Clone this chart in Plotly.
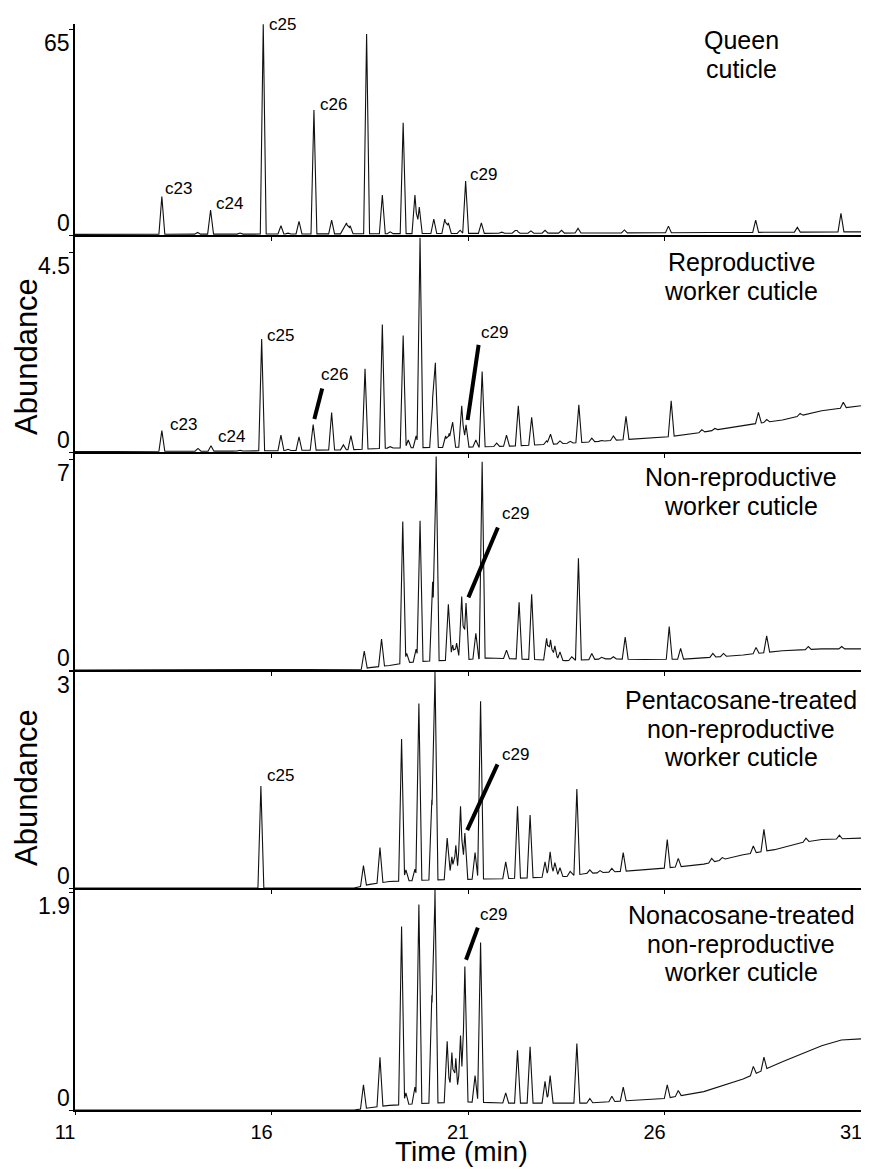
import numpy as np
import plotly.graph_objects as go
from plotly.subplots import make_subplots

# ---------------- data (retention time in min, abundance) ----------------
queen_peak_t = [13.21, 14.12, 14.45, 15.2, 15.79, 16.24, 16.42, 16.70, 17.08, 17.53, 17.83, 17.91, 18.0,
                18.42, 18.82, 19.02, 19.35, 19.65, 19.76, 20.13, 20.41, 20.50, 20.80, 20.94, 21.34, 21.86,
                22.20, 22.25, 22.60, 22.96, 23.38, 23.80, 24.98, 26.10, 27.23, 28.32, 29.38, 30.49]
queen_peak_h = [12.1, 0.8, 7.9, 0.6, 66.5, 2.9, 0.6, 4.3, 39.4, 4.7, 2.2, 3.8, 2.9,
                63.4, 12.6, 1.0, 35.4, 12.6, 8.8, 5.0, 5.0, 3.8, 1.5, 17.0, 3.8, 0.9,
                1.2, 1.2, 1.3, 1.5, 1.5, 2.1, 1.6, 2.8, 0.8, 4.7, 2.4, 6.8]
queen_base_t = [11, 16, 21, 26, 31]
queen_base_y = [0.2, 0.3, 0.5, 0.7, 1.0]

repro_peak_t = [13.21, 14.13, 14.46, 15.2, 15.75, 16.24, 16.42, 16.70, 17.06, 17.53, 17.83, 18.02, 18.38,
                18.82, 19.02, 19.35, 19.48, 19.68, 19.78, 20.10, 20.17, 20.43, 20.52, 20.61, 20.84, 20.95,
                21.20, 21.36, 21.73, 21.98, 22.28, 22.62, 23.00, 23.10, 23.34, 23.60, 23.82, 24.15, 24.40,
                24.70, 25.02, 26.17, 26.95, 27.28, 28.39, 28.60, 29.45, 30.55]
repro_peak_h = [0.48, 0.08, 0.14, 0.04, 2.54, 0.38, 0.06, 0.34, 0.62, 0.89, 0.16, 0.37, 1.87,
                2.87, 0.12, 2.62, 0.27, 0.36, 4.82, 1.1, 1.94, 0.36, 0.42, 0.67, 1.04, 0.61,
                0.27, 1.81, 0.2, 0.38, 1.04, 0.78, 0.25, 0.4, 0.25, 0.24, 1.06, 0.31, 0.26,
                0.36, 0.8, 1.15, 0.5, 0.53, 0.89, 0.73, 0.87, 1.12]
repro_base_t = [11, 15, 18, 19, 20, 21, 22, 23, 24, 25, 26, 27, 28, 29, 30, 31]
repro_base_y = [0.01, 0.02, 0.05, 0.09, 0.1, 0.11, 0.13, 0.17, 0.22, 0.28, 0.33, 0.45, 0.6, 0.72, 0.93, 1.04]

nonrep_peak_t = [18.36, 18.80, 19.34, 19.44, 19.68, 19.78, 20.10, 20.19, 20.50, 20.61, 20.71, 20.84, 20.95,
                 21.20, 21.36, 21.98, 22.30, 22.62, 23.00, 23.10, 23.21, 23.34, 23.64, 23.81, 24.15, 24.40,
                 24.70, 25.00, 26.12, 26.41, 27.23, 27.50, 28.33, 28.60, 29.66, 30.51]
nonrep_peak_h = [0.63, 1.03, 4.93, 0.55, 0.69, 4.95, 2.93, 7.08, 2.18, 0.83, 0.89, 2.44, 2.22,
                 1.22, 6.91, 0.66, 2.25, 2.51, 1.05, 1.0, 0.8, 0.6, 0.44, 3.71, 0.55, 0.42,
                 0.44, 1.09, 1.44, 0.72, 0.55, 0.55, 0.75, 1.13, 0.78, 0.78]
nonrep_base_t = [11, 18.2, 18.5, 19.0, 19.5, 20.0, 20.5, 21.0, 21.5, 22.0, 23.0, 23.5, 24.5, 25.5, 26.5,
                 27.5, 28.0, 29.0, 30.0, 31.0]
nonrep_base_y = [0, 0, 0.08, 0.15, 0.25, 0.3, 0.32, 0.35, 0.4, 0.38, 0.33, 0.31, 0.37, 0.35, 0.36,
                 0.45, 0.5, 0.64, 0.7, 0.7]

penta_peak_t = [15.73, 18.34, 18.76, 19.31, 19.42, 19.65, 19.75, 20.08, 20.16, 20.47, 20.59, 20.69, 20.81,
                20.92, 21.18, 21.32, 21.96, 22.26, 22.58, 22.96, 23.09, 23.21, 23.34, 23.60, 23.77, 24.10,
                24.36, 24.66, 24.95, 26.07, 26.35, 27.20, 27.47, 28.26, 28.53, 29.60, 30.45]
penta_peak_h = [1.41, 0.31, 0.56, 2.06, 0.25, 0.26, 2.55, 1.22, 2.99, 0.69, 0.43, 0.59, 1.13,
                0.76, 0.49, 2.58, 0.36, 1.13, 1.01, 0.36, 0.5, 0.35, 0.28, 0.23, 1.37, 0.25,
                0.24, 0.27, 0.49, 0.67, 0.41, 0.41, 0.42, 0.58, 0.81, 0.69, 0.73]
penta_base_t = [11, 18.1, 18.5, 19, 19.5, 20, 21, 22, 23, 23.5, 24, 25.5, 26.5, 27, 28, 28.8, 29.5, 30, 31]
penta_base_y = [0, 0, 0.05, 0.09, 0.1, 0.11, 0.12, 0.13, 0.15, 0.16, 0.2, 0.25, 0.3, 0.33, 0.46, 0.53,
                0.63, 0.67, 0.69]

nona_peak_t = [18.34, 18.76, 19.31, 19.42, 19.65, 19.75, 20.08, 20.16, 20.47, 20.59, 20.69, 20.81, 20.92,
               21.18, 21.32, 21.96, 22.26, 22.58, 22.96, 23.09, 23.77, 24.10, 24.66, 24.95, 26.07, 26.35,
               28.26, 28.53]
nona_peak_h = [0.22, 0.46, 1.6, 0.15, 0.2, 1.79, 1.0, 1.92, 0.6, 0.5, 0.45, 0.65, 1.25,
               0.3, 1.46, 0.15, 0.52, 0.55, 0.25, 0.3, 0.58, 0.1, 0.12, 0.2, 0.22, 0.17,
               0.38, 0.46]
nona_base_t = [11, 18.1, 18.5, 19, 20, 21, 22, 23, 24, 25, 26, 27, 28, 29, 30, 30.5, 31]
nona_base_y = [0, 0, 0.02, 0.04, 0.06, 0.07, 0.06, 0.06, 0.06, 0.08, 0.1, 0.16, 0.27, 0.42, 0.56, 0.61, 0.62]

panel_titles = [["Queen", "cuticle"],
                ["Reproductive", "worker cuticle"],
                ["Non-reproductive", "worker cuticle"],
                ["Pentacosane-treated", "non-reproductive", "worker cuticle"],
                ["Nonacosane-treated", "non-reproductive", "worker cuticle"]]
panel_max = [65, 4.5, 7, 3, 1.9]
panel_max_labels = ["65", "4.5", "7", "3", "1.9"]
x_ticks = [11, 16, 21, 26, 31]

# peak labels: (panel, label, time, abundance)
label_panel = [1, 1, 1, 1, 1, 2, 2, 2, 2, 2, 3, 4, 4, 5]
label_text = ["c23", "c24", "c25", "c26", "c29", "c23", "c24", "c25", "c26", "c29", "c29", "c25", "c29", "c29"]
label_t = [13.23, 14.54, 15.88, 17.19, 21.01, 13.37, 14.58, 15.83, 17.22, 21.29, 21.81, 15.83, 21.81, 21.25]
label_y = [14.8, 9.8, 66.5, 41.3, 19.2, 0.63, 0.34, 2.63, 1.74, 2.70, 5.18, 1.55, 1.84, 1.70]

# leader lines: (panel, t0, y0, t1, y1)
lead_panel = [2, 2, 3, 4, 5]
lead_t0 = [17.29, 21.27, 21.76, 21.75, 21.25]
lead_y0 = [1.43, 2.41, 4.73, 1.71, 1.59]
lead_t1 = [17.09, 20.99, 21.01, 20.98, 20.95]
lead_y1 = [0.74, 0.72, 2.41, 0.80, 1.31]

panels = [(queen_peak_t, queen_peak_h, queen_base_t, queen_base_y),
          (repro_peak_t, repro_peak_h, repro_base_t, repro_base_y),
          (nonrep_peak_t, nonrep_peak_h, nonrep_base_t, nonrep_base_y),
          (penta_peak_t, penta_peak_h, penta_base_t, penta_base_y),
          (nona_peak_t, nona_peak_h, nona_base_t, nona_base_y)]


def build_trace(pt, ph, bt, by, w=0.075):
    pt = np.array(pt, float)
    ph = np.array(ph, float)
    knots = np.concatenate([bt, pt - w, pt, pt + w])
    knots = np.unique(np.clip(knots, 11, 31))
    base = np.interp(knots, bt, by)
    amp = ph - np.interp(pt, bt, by)
    y = base.copy()
    for t0, a in zip(pt, amp):
        y += np.clip(a * (1 - np.abs(knots - t0) / w), 0, None)
    return knots, y


# ---------------- layout geometry (page pixels; page body has an 8px margin) ----------------
BODY = 8
W, H = 869 - BODY, 1169 - BODY
PLOT_LEFT, PLOT_RIGHT, PLOT_TOP, PLOT_BOTTOM = 75, 861, 24, 1110
ML = PLOT_LEFT - BODY
MR = 869 - PLOT_RIGHT
MT = PLOT_TOP - BODY
MB = H - (PLOT_BOTTOM - BODY)
plot_h = PLOT_BOTTOM - PLOT_TOP
plot_w = PLOT_RIGHT - PLOT_LEFT


def fy(px):
    return (PLOT_BOTTOM - px) / plot_h


def fx(px):
    return (px - PLOT_LEFT) / plot_w


panel_bounds = [(24, 235), (235, 452), (452, 670), (670, 888), (888, 1110)]
tick_px = [29, 252, 459, 671, 892]
title_first_px = [40, 262, 477, 700, 915]

FONT = "Liberation Sans, Arial, sans-serif"

fig = make_subplots(rows=5, cols=1, shared_xaxes=True, vertical_spacing=0)

annotations = []
shapes = []
for i, (pt, ph, bt, by) in enumerate(panels):
    r = i + 1
    xs, ys = build_trace(pt, ph, bt, by)
    fig.add_trace(go.Scatter(x=xs, y=ys, mode="lines", line=dict(color="#111111", width=1.1),
                             showlegend=False, hoverinfo="skip"), row=r, col=1)
    top_px, bot_px = panel_bounds[i]
    ymax = panel_max[i] * (bot_px - top_px) / (bot_px - tick_px[i])
    yname = "yaxis" if r == 1 else f"yaxis{r}"
    xname = "xaxis" if r == 1 else f"xaxis{r}"
    fig.layout[yname].update(domain=[fy(bot_px), fy(top_px)], range=[0, ymax],
                             showgrid=False, zeroline=False, showline=True, linecolor="black",
                             linewidth=2, ticks="outside", ticklen=4, tickwidth=1.2,
                             tickcolor="black", tickvals=[0, panel_max[i]], showticklabels=False)
    last = (r == 5)
    fig.layout[xname].update(range=[11, 31], showgrid=False, zeroline=False, showline=True,
                             linecolor="black", linewidth=2, ticks="outside",
                             ticklen=3 if last else 4,
                             tickwidth=1.2, tickcolor="black",
                             tickvals=x_ticks if last else x_ticks[1:],
                             showticklabels=last,
                             tickfont=dict(family=FONT, size=20, color="black"))
    if last:
        fig.layout[xname].update(ticklabelshift=-10, ticklabeloverflow="allow")
    yref = "y" if r == 1 else f"y{r}"
    # y tick labels
    annotations.append(dict(text=panel_max_labels[i], xref="paper", x=0, xanchor="right", xshift=-3,
                            yref=yref, y=panel_max[i], yanchor="middle", yshift=-14, showarrow=False,
                            font=dict(family=FONT, size=23, color="black")))
    annotations.append(dict(text="0", xref="paper", x=0, xanchor="right", xshift=-3,
                            yref=yref, y=0, yanchor="middle", yshift=12, showarrow=False,
                            font=dict(family=FONT, size=23, color="black")))
    # panel titles (one annotation per line)
    for k, line in enumerate(panel_titles[i]):
        annotations.append(dict(text=line, xref="paper", x=fx(741), xanchor="center",
                                yref="paper", y=fy(title_first_px[i] + 28.7 * k), yanchor="middle",
                                showarrow=False, font=dict(family=FONT, size=25, color="black")))

for p, txt, t, yv in zip(label_panel, label_text, label_t, label_y):
    yref = "y" if p == 1 else f"y{p}"
    xref = "x" if p == 1 else f"x{p}"
    annotations.append(dict(text=txt, xref=xref, x=t, yref=yref, y=yv, xanchor="left", yanchor="middle",
                            showarrow=False, font=dict(family=FONT, size=17, color="black")))

for p, t0, y0, t1, y1 in zip(lead_panel, lead_t0, lead_y0, lead_t1, lead_y1):
    yref = "y" if p == 1 else f"y{p}"
    xref = "x" if p == 1 else f"x{p}"
    shapes.append(dict(type="line", xref=xref, yref=yref, x0=t0, y0=y0, x1=t1, y1=y1,
                       line=dict(color="black", width=4)))

# axis titles
for cy in (357, 788):
    annotations.append(dict(text="Abundance", textangle=-90, xref="paper", x=fx(26),
                            xanchor="center", yref="paper", y=fy(cy), yanchor="middle", showarrow=False,
                            font=dict(family=FONT, size=31, color="black")))
annotations.append(dict(text="Time (min)", xref="paper", x=fx(461), xanchor="center",
                        yref="paper", y=fy(1168), yanchor="bottom", showarrow=False, borderpad=0,
                        font=dict(family=FONT, size=28, color="black")))

fig.update_layout(width=W, height=H, margin=dict(l=ML, r=MR, t=MT, b=MB, autoexpand=False),
                  plot_bgcolor="white", paper_bgcolor="white",
                  annotations=annotations, shapes=shapes,
                  font=dict(family=FONT, color="black"))

fig.write_html("out.html")
